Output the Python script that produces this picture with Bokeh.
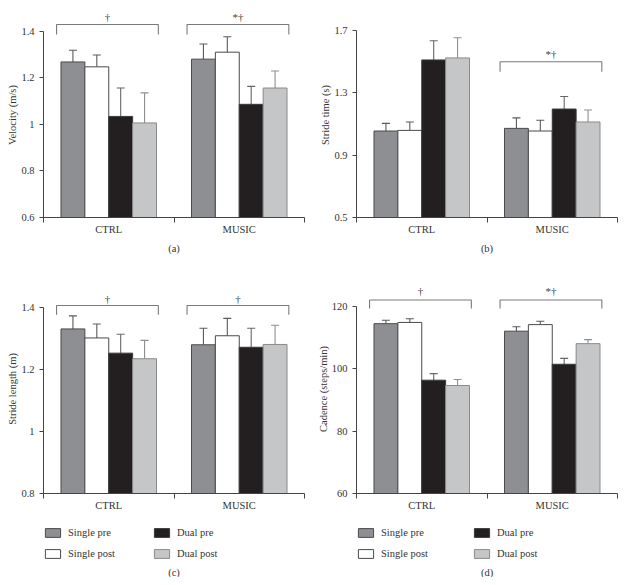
from bokeh.plotting import figure
from bokeh.layouts import row, column
from bokeh.models import FixedTicker, Legend, LegendItem, Title, ColumnDataSource
from bokeh.core.properties import value
from bokeh.embed import file_html
from bokeh.resources import INLINE

# ---------------- data ----------------
groups = ["CTRL", "MUSIC"]
series = ["Single pre", "Single post", "Dual pre", "Dual post"]

# each inner list: [CTRL, MUSIC]
velocity_mean = [[1.268, 1.280], [1.247, 1.310], [1.034, 1.086], [1.006, 1.156]]
velocity_err = [[0.050, 0.065], [0.051, 0.066], [0.122, 0.077], [0.129, 0.073]]
velocity_sig = ["†", "*†"]
velocity_ticks = [0.6, 0.8, 1.0, 1.2, 1.4]
velocity_tick_labels = ["0.6", "0.8", "1", "1.2", "1.4"]

stride_time_mean = [[1.055, 1.072], [1.059, 1.055], [1.511, 1.196], [1.524, 1.113]]
stride_time_err = [[0.049, 0.067], [0.054, 0.069], [0.123, 0.080], [0.129, 0.077]]
stride_time_sig = ["", "*†"]
stride_time_ticks = [0.5, 0.9, 1.3, 1.7]
stride_time_tick_labels = ["0.5", "0.9", "1.3", "1.7"]

stride_length_mean = [[1.330, 1.279], [1.301, 1.308], [1.252, 1.271], [1.234, 1.280]]
stride_length_err = [[0.042, 0.053], [0.045, 0.056], [0.061, 0.061], [0.059, 0.062]]
stride_length_sig = ["†", "†"]
stride_length_ticks = [0.8, 1.0, 1.2, 1.4]
stride_length_tick_labels = ["0.8", "1", "1.2", "1.4"]

cadence_mean = [[114.4, 112.0], [114.8, 114.1], [96.3, 101.4], [94.6, 108.0]]
cadence_err = [[1.1, 1.4], [1.2, 1.1], [2.1, 1.9], [1.9, 1.3]]
cadence_sig = ["†", "*†"]
cadence_ticks = [60, 80, 100, 120]
cadence_tick_labels = ["60", "80", "100", "120"]

# ---------------- style ----------------
FONT = "Liberation Serif"
FS = "10.5px"
TXT = "#333333"
fills = ["#8e8f93", "#ffffff", "#231f20", "#c5c6c8"]
outlines = ["#4a4a4a", "#4a4a4a", "#3a3a3a", "#8a8a8a"]
whisk = ["#5a5a5a", "#5a5a5a", "#666666", "#8f8f8f"]
AXIS = "#444444"
BRACKET = "#7a7a7a"
BAR_W = 0.183


def base_fig(width, height, borders, x_range, y_range):
    bl, br, bt, bb = borders
    p = figure(width=width, height=height, x_range=x_range, y_range=y_range,
               output_backend="svg", toolbar_location=None,
               min_border_left=bl, min_border_right=br,
               min_border_top=bt, min_border_bottom=bb)
    p.outline_line_color = None
    p.grid.visible = False
    p.background_fill_color = "white"
    p.border_fill_color = "white"
    return p


def make_panel(mean, err, sig, ticks, tick_labels, ylabel, caption, y_range,
               bracket, width, height, borders):
    top_b, end_b, lab_y = bracket
    p = base_fig(width, height, borders, (0, 2), y_range)

    for k, name in enumerate(series):
        xs = [g + 0.5 + (k - 1.5) * BAR_W for g in range(len(groups))]
        tops = mean[k]
        ups = [m + e for m, e in zip(mean[k], err[k])]
        p.segment(x0=xs, y0=tops, x1=xs, y1=ups, line_color=whisk[k], line_width=1.1)
        p.scatter(x=xs, y=ups, marker="dash", size=8, line_color=whisk[k], line_width=1.1)
        p.vbar(x=xs, top=tops, bottom=y_range[0], width=BAR_W,
               fill_color=fills[k], line_color=outlines[k], line_width=1)

    # significance brackets
    for g, s in enumerate(sig):
        if not s:
            continue
        x0, x1 = g + 0.1, g + 0.88
        p.line(x=[x0, x0, x1, x1], y=[end_b, top_b, top_b, end_b],
               line_color=BRACKET, line_width=1.1)
        p.text(x=[(x0 + x1) / 2], y=[lab_y], text=[s], text_align="center",
               text_baseline="middle", text_font=value(FONT),
               text_font_size="11px", text_color="#444444")

    # y axis
    ya = p.yaxis[0]
    ya.ticker = FixedTicker(ticks=ticks, minor_ticks=[])
    ya.major_label_overrides = {t: l for t, l in zip(ticks, tick_labels)}
    ya.bounds = (ticks[0], ticks[-1])
    ya.axis_label = ylabel
    ya.axis_label_text_font = FONT
    ya.axis_label_text_font_style = "normal"
    ya.axis_label_text_font_size = FS
    ya.axis_label_text_color = TXT
    ya.axis_label_standoff = 0
    ya.major_label_text_font = FONT
    ya.major_label_text_font_size = FS
    ya.major_label_text_color = TXT
    ya.major_tick_out = 4
    ya.major_tick_in = 0
    ya.minor_tick_out = 0
    ya.minor_tick_in = 0
    ya.axis_line_color = AXIS
    ya.major_tick_line_color = AXIS
    ya.major_label_standoff = 5

    # x axis
    xa = p.xaxis[0]
    xa.ticker = FixedTicker(ticks=[g + 0.5 for g in range(len(groups))],
                            minor_ticks=[0, 1, 2])
    xa.major_label_overrides = {g + 0.5: n for g, n in enumerate(groups)}
    xa.bounds = (0, 2)
    xa.major_tick_out = 0
    xa.major_tick_in = 0
    xa.minor_tick_out = 5
    xa.minor_tick_in = 0
    xa.minor_tick_line_color = AXIS
    xa.axis_line_color = AXIS
    xa.major_label_text_font = FONT
    xa.major_label_text_font_size = FS
    xa.major_label_text_color = TXT
    xa.major_label_standoff = 1
    if caption:
        xa.axis_label = caption
        xa.axis_label_text_font = FONT
        xa.axis_label_text_font_style = "normal"
        xa.axis_label_text_font_size = FS
        xa.axis_label_text_color = TXT
        xa.axis_label_standoff = 5
    return p


def make_legend_fig(caption, width, height, borders, label_width):
    p = base_fig(width, height, borders, (0, 1), (0, 1))
    p.axis.visible = False
    # legend-only renderers: one undrawn (NaN) bar each
    src = ColumnDataSource(data=dict(x=[0.5], top=[float("nan")], bottom=[float("nan")]))
    items = []
    for k, name in enumerate(series):
        r = p.vbar(x="x", top="top", bottom="bottom", width=0.1, source=src,
                   fill_color=fills[k], line_color=outlines[k], line_width=1)
        items.append(LegendItem(label=name, renderers=[r]))
    lg = Legend(items=items, orientation="vertical", ncols=2,
                location="top_left", margin=0, padding=1,
                glyph_width=19, glyph_height=11, label_standoff=6,
                label_height=13, label_width=label_width, spacing=8,
                label_text_font=FONT, label_text_font_size=FS,
                label_text_color=TXT,
                border_line_color=None, background_fill_alpha=0)
    p.add_layout(lg, "center")
    t = Title(text=caption, align="center", text_font=FONT,
              text_font_size=FS, text_font_style="normal",
              text_color=TXT, standoff=0)
    p.add_layout(t, "below")
    return p


W_LEFT, W_RIGHT = 313, 305
pa = make_panel(velocity_mean, velocity_err, velocity_sig, velocity_ticks,
                velocity_tick_labels, "Velocity (m/s)", "(a)", (0.6, 1.4803),
                (1.429, 1.386, 1.459), W_LEFT, 282, (43, 9, 12, 65))
pb = make_panel(stride_time_mean, stride_time_err, stride_time_sig, stride_time_ticks,
                stride_time_tick_labels, "Stride time (s)", "(b)", (0.5, 1.8155),
                (1.499, 1.436, 1.546), W_RIGHT, 282, (43, 1, 12, 65))
pc = make_panel(stride_length_mean, stride_length_err, stride_length_sig,
                stride_length_ticks, stride_length_tick_labels, "Stride length (m)",
                "", (0.8, 1.4731), (1.4055, 1.376, 1.425), W_LEFT, 235,
                (43, 9, 2, 24))
pd_ = make_panel(cadence_mean, cadence_err, cadence_sig, cadence_ticks,
                 cadence_tick_labels, "Cadence (steps/min)", "", (60, 126.95),
                 (122.0, 119.3, 125.0), W_RIGHT, 235, (43, 1, 2, 24))
lc = make_legend_fig("(c)", W_LEFT, 60, (43, 9, 9, 0), 76)
ld = make_legend_fig("(d)", W_RIGHT, 60, (43, 1, 9, 0), 83)

layout = column(row(pa, pb), row(pc, pd_), row(lc, ld))
open("out.html", "w").write(file_html(layout, INLINE))
